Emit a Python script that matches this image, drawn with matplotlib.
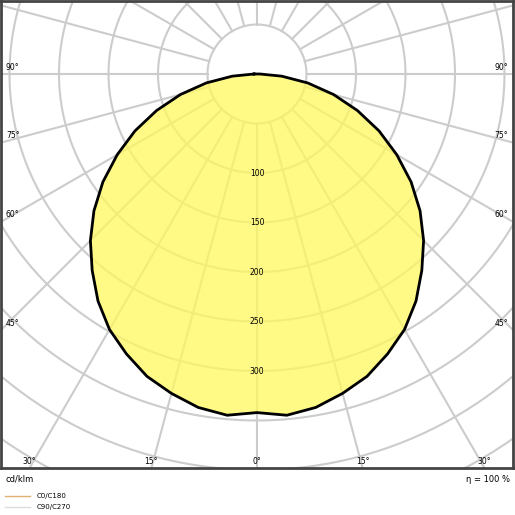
import numpy as np
import matplotlib
matplotlib.use("Agg")
import matplotlib.pyplot as plt

angles_deg = [0, 5, 10, 15, 20, 25, 30, 35, 40, 45, 50, 55, 60, 65, 70, 75, 80, 85, 90]
intensity = [342, 346, 342, 334, 325, 312, 298, 280, 259, 238, 215, 190, 163, 136, 108, 80, 52, 25, 3]
ring_values = [50, 100, 150, 200, 250, 300, 350, 400, 450, 500]
ring_labels = [100, 150, 200, 250, 300]
side_labels = [90, 75, 60, 45]
bottom_labels = [30, 15, 0]

fig = plt.figure(figsize=(5.15, 5.15), dpi=100)
ax = fig.add_axes([1/515, 1 - 468/515, 512/515, 467/515])
s = 0.99
xl = 256 / s
ax.set_xlim(-xl, xl)
ax.set_ylim(-394 / s, 73 / s)
ax.set_aspect('auto')
ax.set_xticks([]); ax.set_yticks([])
for sp in ax.spines.values():
    sp.set_color('#444444'); sp.set_linewidth(2)

gc = '#cccccc'
t = np.linspace(0, 2*np.pi, 400)
for r in ring_values:
    ax.plot(r*np.sin(t), r*np.cos(t), color=gc, lw=1.5, zorder=1)
for a in range(0, 360, 15):
    ar = np.radians(a)
    ax.plot([50*np.sin(ar), 800*np.sin(ar)], [-50*np.cos(ar), -800*np.cos(ar)], color=gc, lw=1.5, zorder=1)

th = np.radians(np.array(angles_deg, float))
r = np.array(intensity, float)
th_full = np.concatenate([-th[::-1], th[1:]])
r_full = np.concatenate([r[::-1], r[1:]])
x = r_full*np.sin(th_full); y = -r_full*np.cos(th_full)
ax.fill(x, y, color='#fff75e', alpha=0.75, zorder=2, lw=0)
ax.plot(np.append(x, x[0]), np.append(y, y[0]), color='black', lw=2, zorder=3)

fs = 5.5
for v in ring_labels:
    ax.text(0, -v, str(v), ha='center', va='center', fontsize=fs, zorder=4)
for a in side_labels:
    ar = np.radians(a)
    yy = -xl / np.tan(ar) if a != 90 else 0
    ax.text(-xl + 5, yy + 7, f"{a}°", ha='left', va='center', fontsize=fs)
    ax.text(xl - 5, yy + 7, f"{a}°", ha='right', va='center', fontsize=fs)
yb = -394 / s
for a in bottom_labels:
    xx = -yb * np.tan(np.radians(a))
    for sg in ([1] if a == 0 else [-1, 1]):
        ax.text(sg*xx, yb + 7, f"{a}°", ha='center', va='center', fontsize=fs)

fig.text(5/515, 1 - 479/515, 'cd/klm', fontsize=6, va='center')
fig.text(510/515, 1 - 479/515, 'η = 100 %', fontsize=6, va='center', ha='right')
fig.lines.append(plt.Line2D([5/515, 30/515], [1-496/515]*2, color='#e0b070', lw=1, transform=fig.transFigure))
fig.lines.append(plt.Line2D([5/515, 30/515], [1-507/515]*2, color='#dddddd', lw=1, transform=fig.transFigure))
fig.text(37/515, 1 - 496/515, 'C0/C180', fontsize=5, va='center')
fig.text(37/515, 1 - 507/515, 'C90/C270', fontsize=5, va='center')
fig.savefig('out.png', dpi=100)
